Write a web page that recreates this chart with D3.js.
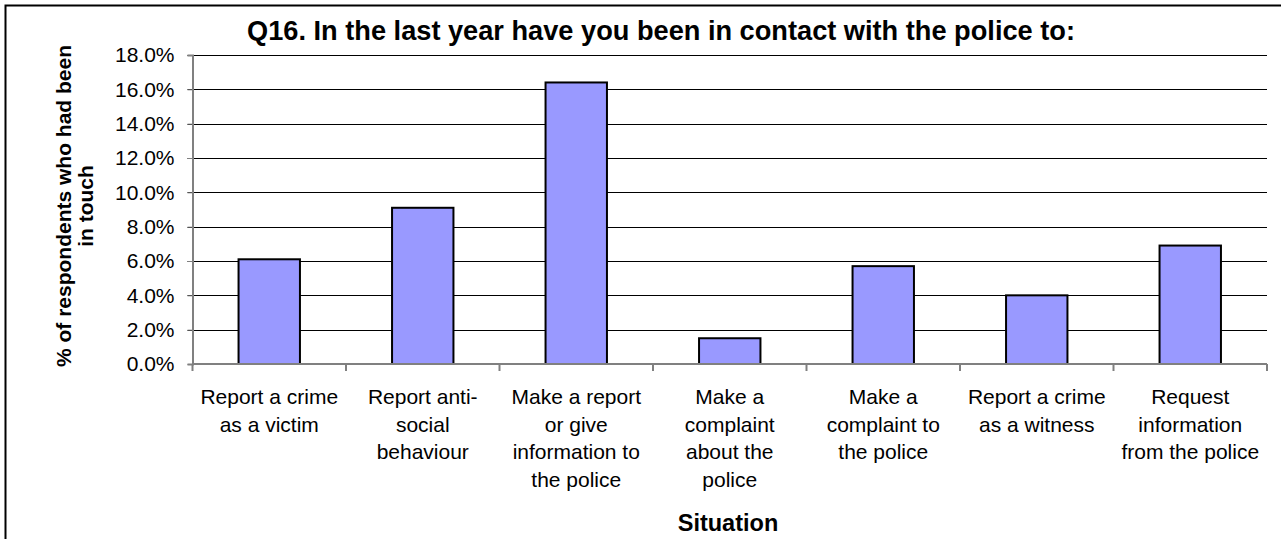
<!DOCTYPE html>
<html>
<head>
<meta charset="utf-8">
<script src="https://cdn.jsdelivr.net/npm/d3@7"></script>
<style>
  html, body { margin: 0; padding: 0; background: #fff; }
  svg { display: block; }
  text { font-family: "Liberation Sans", Arial, sans-serif; fill: #000; }
</style>
</head>
<body>
<svg id="chart" width="1281" height="539"></svg>
<script>
// Survey situations (label lines split with \n) and share of respondents
const categories = [
  "Report a crime\nas a victim",
  "Report anti-\nsocial\nbehaviour",
  "Make a report\nor give\ninformation to\nthe police",
  "Make a\ncomplaint\nabout the\npolice",
  "Make a\ncomplaint to\nthe police",
  "Report a crime\nas a witness",
  "Request\ninformation\nfrom the police"
];
const values = [6.1, 9.1, 16.4, 1.5, 5.7, 4.0, 6.9];
const yTicks = [0, 2, 4, 6, 8, 10, 12, 14, 16, 18];
const chartTitle = "Q16. In the last year have you been in contact with the police to:";
const xTitle = "Situation";
const yTitleLines = ["% of respondents who had been", "in touch"];

const svg = d3.select("#chart");
const plot = { left: 192.5, right: 1267, top: 55, bottom: 364 };

// Outer chart frame (continues past the right and bottom edges)
svg.append("rect")
  .attr("x", 5.5).attr("y", 5.5)
  .attr("width", 1400).attr("height", 700)
  .attr("fill", "none").attr("stroke", "#000").attr("stroke-width", 2);

const x = d3.scaleBand()
  .domain(categories)
  .range([plot.left, plot.right])
  .paddingInner(0.6).paddingOuter(0.3);

const xOuter = d3.scaleBand()
  .domain(categories)
  .range([plot.left, plot.right]);

const y = d3.scaleLinear()
  .domain([0, 18])
  .range([plot.bottom, plot.top]);

// Horizontal gridlines
svg.append("g")
  .selectAll("line")
  .data(yTicks.filter(d => d > 0))
  .join("line")
  .attr("x1", plot.left - 5).attr("x2", plot.right)
  .attr("y1", d => Math.round(y(d)) + 0.5)
  .attr("y2", d => Math.round(y(d)) + 0.5)
  .attr("stroke", "#000").attr("stroke-width", 1);

// Y axis
const yAxis = svg.append("g")
  .attr("transform", `translate(${plot.left},0)`)
  .call(d3.axisLeft(y).tickValues(yTicks).tickSize(5).tickPadding(13)
    .tickFormat(d => d.toFixed(1) + "%"));
yAxis.select(".domain").attr("stroke", "#808080").attr("stroke-width", 2);
yAxis.selectAll(".tick line").attr("stroke", "#808080");
yAxis.selectAll(".tick text")
  .style("font-family", "'Liberation Sans', Arial, sans-serif")
  .style("font-size", "21px").attr("fill", "#000");

// Bars
svg.append("g")
  .selectAll("rect")
  .data(values)
  .join("rect")
  .attr("x", (d, i) => x(categories[i]))
  .attr("width", x.bandwidth())
  .attr("y", d => y(d))
  .attr("height", d => y(0) - y(d))
  .attr("fill", "#9999FF")
  .attr("stroke", "#000").attr("stroke-width", 2);

// X axis line with category dividers
const xAxisG = svg.append("g").attr("transform", `translate(0,${plot.bottom})`);
xAxisG.append("line")
  .attr("x1", plot.left).attr("x2", plot.right)
  .attr("y1", 0).attr("y2", 0)
  .attr("stroke", "#808080").attr("stroke-width", 2);
xAxisG.selectAll("line.div")
  .data(categories.map(c => xOuter(c)).concat([plot.right]))
  .join("line").attr("class", "div")
  .attr("x1", d => d).attr("x2", d => d)
  .attr("y1", 0).attr("y2", 7)
  .attr("stroke", "#808080").attr("stroke-width", 2);

// Category labels
const labels = svg.append("g");
categories.forEach(c => {
  const cx = xOuter(c) + xOuter.bandwidth() / 2;
  const t = labels.append("text")
    .attr("text-anchor", "middle")
    .attr("x", cx)
    .attr("y", 404)
    .style("font-size", "21px");
  c.split("\n").forEach((line, j) => {
    t.append("tspan")
      .attr("x", cx)
      .attr("dy", j === 0 ? 0 : 27.5)
      .text(line);
  });
});

// Title
svg.append("text")
  .attr("x", 661).attr("y", 40)
  .attr("text-anchor", "middle")
  .style("font-size", "27.2px").style("font-weight", "bold")
  .text(chartTitle);

// X axis title
svg.append("text")
  .attr("x", 728).attr("y", 531)
  .attr("text-anchor", "middle")
  .style("font-size", "23.5px").style("font-weight", "bold")
  .text(xTitle);

// Y axis title
const yt = svg.append("text")
  .attr("transform", "translate(71,206) rotate(-90)")
  .attr("text-anchor", "middle")
  .style("font-size", "21px").style("font-weight", "bold");
yTitleLines.forEach((line, j) => {
  yt.append("tspan").attr("x", 0).attr("dy", j === 0 ? 0 : 22).text(line);
});
</script>
</body>
</html>
